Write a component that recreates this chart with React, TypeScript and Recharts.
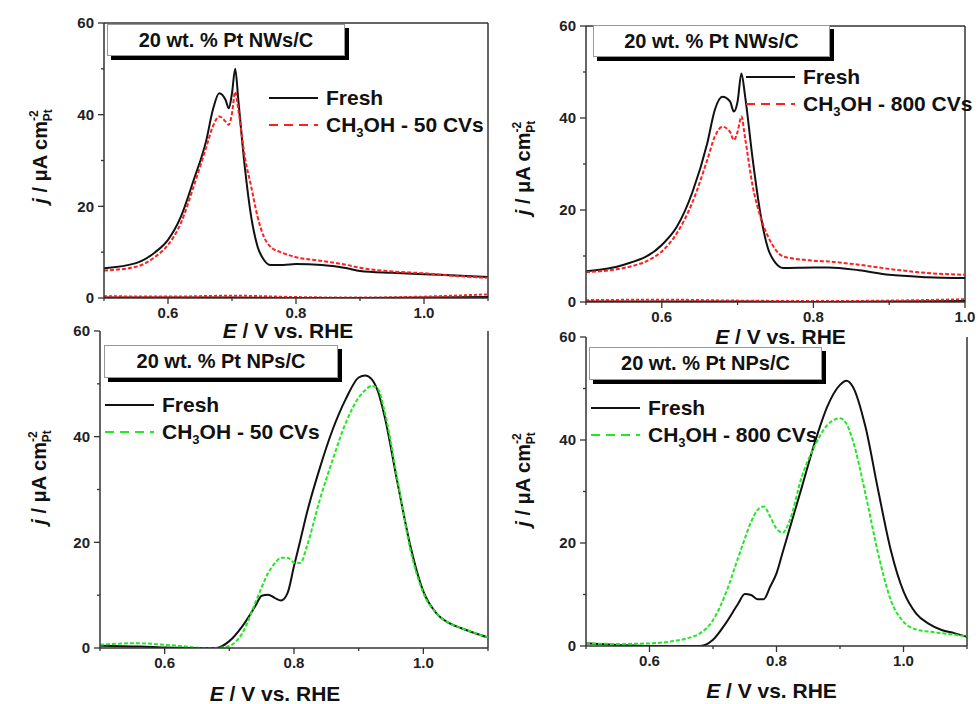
import { LineChart, Line, XAxis, YAxis, Legend, ReferenceLine, Label } from 'recharts';

const FONT = '"Liberation Sans", Arial, Helvetica, sans-serif';
const RED = '#ff1f1f';
const GREEN = '#22e822';

// Pt NWs/C, 50 CVs
const nw50E = [0.5, 0.55, 0.58, 0.6, 0.62, 0.64, 0.66, 0.67, 0.68, 0.69, 0.695, 0.7, 0.705, 0.71, 0.72, 0.73, 0.74, 0.75, 0.76, 0.78, 0.8, 0.84, 0.88, 0.9, 0.95, 1.0, 1.05, 1.1];
const nw50Fresh = [6.5, 7.6, 10.0, 12.7, 17.7, 25.7, 34.5, 41.0, 44.7, 43.2, 41.4, 44.7, 50.0, 43.0, 28.6, 17.7, 11.2, 8.3, 7.2, 7.2, 7.4, 7.2, 6.5, 5.9, 5.5, 5.2, 4.9, 4.6];
const nw50Aged = [6.0, 6.8, 9.0, 11.6, 16.3, 24.3, 33.0, 37.4, 39.6, 38.5, 37.8, 40.3, 45.0, 41.0, 30.8, 24.3, 17.7, 13.3, 11.2, 9.8, 8.9, 8.1, 7.2, 6.6, 5.8, 5.4, 4.8, 4.4];
const nw50BaseE = [0.5, 0.6, 0.7, 0.8, 0.9, 1.0, 1.1];
const nw50BaseAged = [0.4, 0.3, 0.5, 0.2, 0.1, 0.3, 0.8];
const nw50BaseFresh = [0.1, 0.1, 0.1, 0.0, 0.0, 0.1, 0.2];

// Pt NWs/C, 800 CVs
const nw800E = [0.5, 0.55, 0.6, 0.62, 0.64, 0.66, 0.67, 0.68, 0.69, 0.695, 0.7, 0.705, 0.71, 0.72, 0.73, 0.74, 0.75, 0.76, 0.8, 0.82, 0.86, 0.9, 0.95, 1.0];
const nw800Fresh = [6.7, 8.1, 12.4, 16.4, 23.7, 34.5, 41.8, 44.6, 43.6, 41.4, 43.6, 49.7, 44.6, 30.9, 19.3, 11.7, 8.5, 7.4, 7.5, 7.5, 6.9, 5.9, 5.4, 5.2];
const nw800Aged = [6.5, 7.4, 11.0, 15.0, 21.5, 30.9, 36.0, 38.1, 37.0, 35.2, 37.0, 40.3, 35.5, 25.1, 18.6, 14.3, 11.4, 9.9, 9.0, 8.8, 8.1, 7.2, 6.3, 5.9];
const nw800BaseE = [0.5, 0.6, 0.7, 0.8, 0.9, 1.0];
const nw800BaseAged = [0.4, 0.5, 0.3, 0.2, 0.3, 0.6];
const nw800BaseFresh = [0.1, 0.1, 0.1, 0.0, 0.1, 0.2];

// Pt NPs/C, 50 CVs
const np50E = [0.5, 0.55, 0.58, 0.6, 0.62, 0.66, 0.68, 0.7, 0.72, 0.74, 0.75, 0.76, 0.77, 0.78, 0.79, 0.8, 0.81, 0.82, 0.84, 0.86, 0.88, 0.9, 0.91, 0.92, 0.93, 0.94, 0.96, 0.98, 1.0, 1.02, 1.04, 1.06, 1.08, 1.1];
const np50Fresh = [0.45, 0.3, 0.2, 0.1, 0.05, 0.0, 0.0, 1.3, 4.1, 7.9, 9.9, 10.1, 9.5, 9.0, 10.4, 15.5, 20.5, 25.6, 34.1, 41.4, 47.1, 51.2, 51.6, 50.9, 48.5, 43.9, 31.3, 19.3, 10.7, 6.6, 4.7, 3.7, 2.8, 2.0];
const np50Aged = [0.6, 0.9, 0.8, 0.6, 0.45, 0.0, 0.0, 0.4, 2.8, 8.5, 11.5, 14.2, 16.0, 17.1, 17.1, 16.2, 16.1, 19.3, 28.1, 35.7, 42.6, 47.4, 48.8, 49.6, 49.0, 44.8, 31.9, 18.6, 10.4, 6.6, 4.7, 3.7, 2.8, 2.0];

// Pt NPs/C, 800 CVs
const np800E = [0.5, 0.55, 0.6, 0.64, 0.66, 0.68, 0.7, 0.72, 0.74, 0.75, 0.76, 0.77, 0.78, 0.79, 0.8, 0.81, 0.82, 0.84, 0.86, 0.88, 0.9, 0.91, 0.92, 0.94, 0.96, 0.98, 1.0, 1.02, 1.04, 1.06, 1.08, 1.1];
const np800Fresh = [0.5, 0.2, 0.0, 0.0, 0.0, 0.0, 1.2, 4.4, 8.3, 10.1, 9.9, 9.1, 9.1, 11.5, 14.1, 18.3, 22.5, 30.9, 39.4, 46.5, 50.7, 51.5, 50.4, 42.6, 30.3, 18.6, 10.6, 6.3, 4.3, 3.1, 2.5, 1.8];
const np800Aged = [0.5, 0.4, 0.5, 1.0, 1.5, 2.5, 5.0, 10.2, 17.3, 20.8, 24.1, 26.4, 27.1, 25.1, 22.8, 22.0, 24.1, 32.9, 38.8, 42.9, 44.2, 43.2, 40.0, 29.6, 18.0, 8.9, 4.7, 3.2, 2.8, 2.5, 2.2, 1.9];

const yTicks = [0, 10, 20, 30, 40, 50, 60];
const xTicksWide = [0.5, 0.6, 0.7, 0.8, 0.9, 1.0, 1.1];
const xTicksNarrow = [0.5, 0.6, 0.7, 0.8, 0.9, 1.0];

const rows = (E: number[], j: number[]) => E.map((e, i) => ({ E: e, j: j[i] }));

const TICK_SIZE = 6;
const TICK_MARGIN = 3;
const AXIS = '#333';

const YTick = (props: any) => {
  const { x, y, payload } = props;
  const v = payload.value;
  const major = v % 20 === 0;
  const ax = x + TICK_SIZE + TICK_MARGIN;
  return (
    <g>
      <line x1={ax} x2={ax - (major ? 6 : 3)} y1={y} y2={y} stroke={AXIS} strokeWidth={1.3} />
      {major && (
        <text x={x - 1} y={y} dy="0.35em" textAnchor="end" fontFamily={FONT} fontWeight="bold" fontSize={15} fill="#222">
          {v}
        </text>
      )}
    </g>
  );
};

const XTick = (props: any) => {
  const { x, y, payload } = props;
  const v = payload.value;
  const major = Math.round(v * 10) % 2 === 0;
  const ay = y - TICK_SIZE - TICK_MARGIN;
  return (
    <g>
      <line x1={x} x2={x} y1={ay} y2={ay + (major ? 6 : 3)} stroke={AXIS} strokeWidth={1.3} />
      {major && (
        <text x={x} y={y} dy="0.71em" textAnchor="middle" fontFamily={FONT} fontWeight="bold" fontSize={15} fill="#222">
          {v.toFixed(1)}
        </text>
      )}
    </g>
  );
};

type PanelProps = {
  left: number;
  top: number;
  width: number;
  height: number;
  margin: { top: number; right: number; bottom: number; left: number };
  yAxisWidth: number;
  xAxisHeight: number;
  xMax: number;
  xTicks: number[];
  fresh: { E: number; j: number }[];
  aged: { E: number; j: number }[];
  baseFresh?: { E: number; j: number }[];
  baseAged?: { E: number; j: number }[];
  agedColor: string;
  agedLabel: string;
  title: string;
  titleBox: { left: number; top: number; width: number; height: number };
  legendPos: { left: number; top: number };
  framed: boolean;
  xLabelDx: number;
  xLabelDy: number;
  yLabelX: number;
  yLabelDy: number;
};

function Panel(p: PanelProps) {
  const legendContent = () => (
    <div style={{ fontFamily: FONT, fontWeight: 'bold', fontSize: 21, color: '#111', lineHeight: '27px' }}>
      <div style={{ display: 'flex', alignItems: 'center', height: 27 }}>
        <svg width={50} height={27} style={{ marginRight: 7 }}>
          <line x1={0} x2={49} y1={14} y2={14} stroke="#111" strokeWidth={2} />
        </svg>
        <span>Fresh</span>
      </div>
      <div style={{ display: 'flex', alignItems: 'center', height: 27 }}>
        <svg width={50} height={27} style={{ marginRight: 7 }}>
          <line x1={0} x2={49} y1={14} y2={14} stroke={p.agedColor} strokeWidth={2} strokeDasharray="9 6" />
        </svg>
        <span>
          CH<sub style={{ fontSize: 13, verticalAlign: '-5px', lineHeight: 0 }}>3</sub>OH - {p.agedLabel}
        </span>
      </div>
    </div>
  );

  const xLabel = (props: any) => {
    const vb = props.viewBox;
    return (
      <text
        x={vb.x + vb.width / 2 + p.xLabelDx}
        y={vb.y + p.xLabelDy}
        textAnchor="middle"
        fontFamily={FONT}
        fontWeight="bold"
        fontSize={21}
        fill="#111"
      >
        <tspan fontStyle="italic">E</tspan>
        <tspan>{' / V vs. RHE'}</tspan>
      </text>
    );
  };

  const yLabel = (props: any) => {
    const vb = props.viewBox;
    const cy = vb.y + vb.height / 2 + p.yLabelDy;
    return (
      <text
        transform={`translate(${p.yLabelX},${cy}) rotate(-90)`}
        textAnchor="middle"
        fontFamily={FONT}
        fontWeight="bold"
        fontSize={20}
        fill="#111"
      >
        <tspan fontStyle="italic">j</tspan>
        <tspan>{' / μA cm'}</tspan>
        <tspan fontSize={12} dy={-9}>-2</tspan>
        <tspan fontSize={12} dx={-11} dy={14}>Pt</tspan>
      </text>
    );
  };

  return (
    <div style={{ position: 'absolute', left: p.left, top: p.top, width: p.width, height: p.height }}>
      <LineChart width={p.width} height={p.height} margin={p.margin}>
        <XAxis
          dataKey="E"
          type="number"
          domain={[0.5, p.xMax]}
          ticks={p.xTicks}
          allowDataOverflow
          height={p.xAxisHeight}
          stroke={AXIS}
          strokeWidth={1.5}
          tickLine={false}
          tickSize={TICK_SIZE}
          tickMargin={TICK_MARGIN}
          tick={XTick}
          interval={0}
        >
          <Label content={xLabel} />
        </XAxis>
        <YAxis
          type="number"
          domain={[0, 60]}
          ticks={yTicks}
          allowDataOverflow
          width={p.yAxisWidth}
          stroke={AXIS}
          strokeWidth={1.5}
          tickLine={false}
          tickSize={TICK_SIZE}
          tickMargin={TICK_MARGIN}
          tick={YTick}
          interval={0}
        >
          <Label content={yLabel} />
        </YAxis>
        <ReferenceLine x={p.xMax} stroke={AXIS} strokeWidth={1.5} ifOverflow="visible" />
        {p.framed && <ReferenceLine y={60} stroke={AXIS} strokeWidth={1.5} ifOverflow="visible" />}
        {p.baseFresh && (
          <Line data={p.baseFresh} dataKey="j" type="monotone" stroke="#111" strokeWidth={2} dot={false} isAnimationActive={false} />
        )}
        {p.baseAged && (
          <Line data={p.baseAged} dataKey="j" type="monotone" stroke={p.agedColor} strokeWidth={2} strokeDasharray="3 2" dot={false} isAnimationActive={false} />
        )}
        <Line data={p.fresh} dataKey="j" name="Fresh" type="monotone" stroke="#111" strokeWidth={2} dot={false} isAnimationActive={false} />
        <Line data={p.aged} dataKey="j" name="Aged" type="monotone" stroke={p.agedColor} strokeWidth={2} strokeDasharray="4 2" dot={false} isAnimationActive={false} />
        <Legend
          layout="horizontal"
          verticalAlign="middle"
          align="center"
          content={legendContent}
          wrapperStyle={{ left: p.legendPos.left, top: p.legendPos.top, width: 'auto', height: 'auto' }}
        />
      </LineChart>
      <div
        style={{
          position: 'absolute',
          left: p.titleBox.left,
          top: p.titleBox.top,
          width: p.titleBox.width,
          height: p.titleBox.height,
          boxSizing: 'border-box',
          border: '1px solid #999',
          background: '#fff',
          boxShadow: '4px 4px 0 #000',
          display: 'flex',
          alignItems: 'center',
          justifyContent: 'center',
          fontFamily: FONT,
          fontWeight: 'bold',
          fontSize: 20,
          color: '#111',
        }}
      >
        {p.title}
      </div>
    </div>
  );
}

export default function App() {
  return (
    <div style={{ position: 'absolute', left: 0, top: 0, width: 978, height: 704, background: '#fff', overflow: 'hidden' }}>
      <Panel
        left={0}
        top={0}
        width={500}
        height={348}
        margin={{ top: 23, right: 12, bottom: 0, left: 0 }}
        yAxisWidth={104}
        xAxisHeight={50}
        xMax={1.1}
        xTicks={xTicksWide}
        fresh={rows(nw50E, nw50Fresh)}
        aged={rows(nw50E, nw50Aged)}
        baseFresh={rows(nw50BaseE, nw50BaseFresh)}
        baseAged={rows(nw50BaseE, nw50BaseAged)}
        agedColor={RED}
        agedLabel="50 CVs"
        title="20 wt. % Pt NWs/C"
        titleBox={{ left: 107, top: 24, width: 238, height: 32 }}
        legendPos={{ left: 269, top: 84 }}
        framed
        xLabelDx={-8}
        xLabelDy={40}
        yLabelX={47}
        yLabelDy={-4}
      />
      <Panel
        left={490}
        top={0}
        width={488}
        height={348}
        margin={{ top: 26, right: 13, bottom: 0, left: 0 }}
        yAxisWidth={96}
        xAxisHeight={46}
        xMax={1.0}
        xTicks={xTicksNarrow}
        fresh={rows(nw800E, nw800Fresh)}
        aged={rows(nw800E, nw800Aged)}
        baseFresh={rows(nw800BaseE, nw800BaseFresh)}
        baseAged={rows(nw800BaseE, nw800BaseAged)}
        agedColor={RED}
        agedLabel="800 CVs"
        title="20 wt. % Pt NWs/C"
        titleBox={{ left: 103, top: 25, width: 237, height: 32 }}
        legendPos={{ left: 256, top: 63 }}
        framed
        xLabelDx={5}
        xLabelDy={42}
        yLabelX={40}
        yLabelDy={4}
      />
      <Panel
        left={0}
        top={320}
        width={500}
        height={384}
        margin={{ top: 11, right: 12, bottom: 0, left: 0 }}
        yAxisWidth={100}
        xAxisHeight={56}
        xMax={1.1}
        xTicks={xTicksWide}
        fresh={rows(np50E, np50Fresh)}
        aged={rows(np50E, np50Aged)}
        agedColor={GREEN}
        agedLabel="50 CVs"
        title="20 wt. % Pt NPs/C"
        titleBox={{ left: 104, top: 25, width: 234, height: 33 }}
        legendPos={{ left: 105, top: 71 }}
        framed={false}
        xLabelDx={-19}
        xLabelDy={53}
        yLabelX={46}
        yLabelDy={-12}
      />
      <Panel
        left={490}
        top={320}
        width={488}
        height={384}
        margin={{ top: 17, right: 11, bottom: 0, left: 0 }}
        yAxisWidth={96}
        xAxisHeight={58}
        xMax={1.1}
        xTicks={xTicksWide}
        fresh={rows(np800E, np800Fresh)}
        aged={rows(np800E, np800Aged)}
        agedColor={GREEN}
        agedLabel="800 CVs"
        title="20 wt. % Pt NPs/C"
        titleBox={{ left: 99, top: 27, width: 233, height: 33 }}
        legendPos={{ left: 101, top: 74 }}
        framed={false}
        xLabelDx={-5}
        xLabelDy={52}
        yLabelX={40}
        yLabelDy={-12}
      />
    </div>
  );
}
